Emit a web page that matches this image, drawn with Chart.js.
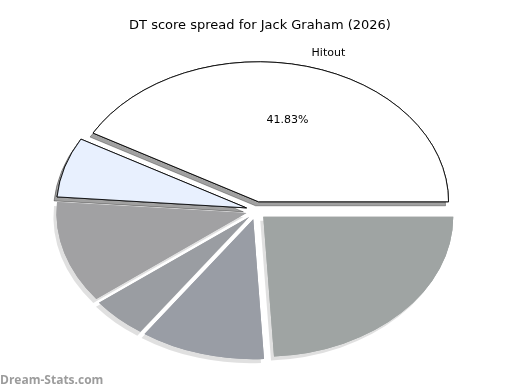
<!DOCTYPE html>
<html>
<head>
<meta charset="utf-8">
<script src="https://cdn.jsdelivr.net/npm/chart.js@4.4.1/dist/chart.umd.min.js"></script>
<style>
html, body { margin: 0; padding: 0; background: #fff; }
</style>
</head>
<body>
<canvas id="pie-chart" width="520" height="390"></canvas>
<script>
const categories = ['Hitout', 'Kick', 'Handball', 'Mark', 'Tackle', 'Free Kick'];
const shares = [41.83, 24.10, 10.60, 4.80, 11.75, 6.92];
const sliceColors = ['#ffffff', '#9fa4a3', '#999da5', '#9a9da2', '#a1a1a3', '#e8f0fe'];
const shadowAlpha = [0.37, 0.12, 0.12, 0.12, 0.12, 0.37];
const labelled = ['Hitout'];

// pie is drawn squashed into an ellipse, slices pulled apart a bit
const RADIUS = 190;
const SQUASH = 140 / 190;
const CENTER_X = 256;
const CENTER_Y = 210.5;
const EXPLODE_X = 10;
const EXPLODE_Y = 9;

function sliceOrigin(arc) {
    const mid = (arc.startAngle + arc.endAngle) / 2;
    return {
        mid: mid,
        x: CENTER_X + Math.cos(mid) * EXPLODE_X,
        y: CENTER_Y + Math.sin(mid) * EXPLODE_Y
    };
}

function drawSlice(ctx, arc, shadow) {
    const o = sliceOrigin(arc);
    ctx.save();
    ctx.translate(o.x, o.y);
    ctx.scale(1, SQUASH);
    ctx.translate(-arc.x, -arc.y);
    if (shadow) {
        ctx.shadowColor = 'rgba(0,0,0,' + shadow + ')';
        ctx.shadowOffsetX = -3;
        ctx.shadowOffsetY = 4;
    }
    arc.draw(ctx);
    ctx.restore();
}

const ellipsePie = {
    id: 'ellipsePie',
    beforeDatasetsDraw(chart) {
        const ctx = chart.ctx;
        const arcs = chart.getDatasetMeta(0).data.slice().reverse();
        const alphas = shadowAlpha.slice().reverse();
        // first the shadows, then the faces on top
        arcs.forEach((arc, i) => drawSlice(ctx, arc, alphas[i]));
        arcs.forEach(arc => drawSlice(ctx, arc, 0));
        return false;
    },
    afterDraw(chart) {
        const ctx = chart.ctx;
        const arcs = chart.getDatasetMeta(0).data;
        ctx.save();
        ctx.fillStyle = '#000';
        ctx.font = '11px "DejaVu Sans"';
        ctx.textBaseline = 'middle';
        arcs.forEach((arc, i) => {
            if (!labelled.includes(categories[i])) return;
            const o = sliceOrigin(arc);
            const cx = Math.cos(o.mid), cy = Math.sin(o.mid) * SQUASH;
            ctx.textAlign = cx >= 0 ? 'left' : 'right';
            ctx.fillText(categories[i], o.x + cx * RADIUS * 1.1, o.y + cy * RADIUS * 1.1);
            ctx.textAlign = 'center';
            ctx.fillText(shares[i].toFixed(2) + '%', o.x + cx * RADIUS * 0.6, o.y + cy * RADIUS * 0.6);
        });
        ctx.fillStyle = '#9c9c9c';
        ctx.font = 'bold 12px "Open Sans"';
        ctx.textAlign = 'left';
        ctx.textBaseline = 'alphabetic';
        ctx.fillText('Dream-Stats.com', 0, 384);
        ctx.restore();
    }
};

const pie = new Chart(document.getElementById('pie-chart'), {
    type: 'pie',
    data: {
        labels: categories,
        datasets: [{
            data: shares,
            backgroundColor: sliceColors,
            borderColor: '#000',
            borderWidth: [1, 0, 0, 0, 0, 1],
            radius: RADIUS,
            clip: false
        }]
    },
    options: {
        responsive: false,
        animation: false,
        rotation: 90 - shares[0] * 3.6,
        plugins: {
            legend: { display: false },
            tooltip: { enabled: false },
            title: {
                display: true,
                text: 'DT score spread for Jack Graham (2026)',
                color: '#000',
                font: { family: 'DejaVu Sans', size: 13, weight: 'normal' },
                padding: { top: 18, bottom: 10 }
            }
        }
    },
    plugins: [ellipsePie]
});
</script>
</body>
</html>
